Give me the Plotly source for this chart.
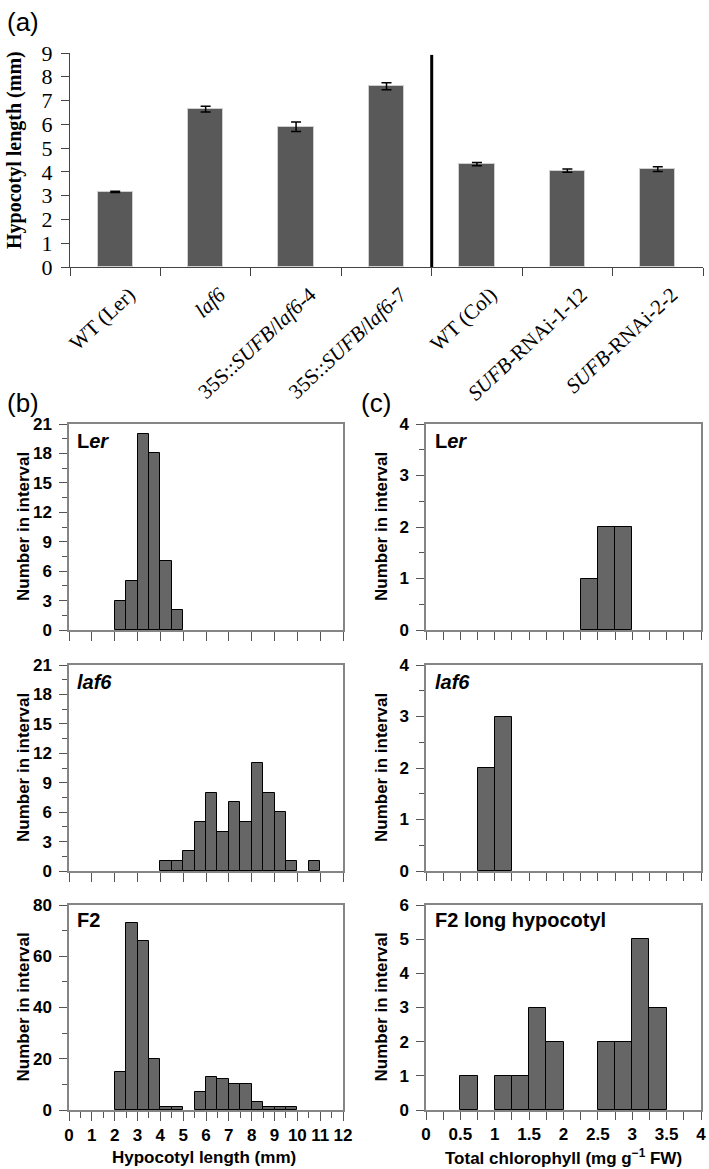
import plotly.graph_objects as go

W, H = 709, 1169

# ---- panel (a): mean hypocotyl length ----
genotypes = ["WT (Ler)", "<i>laf6</i>", "35S::<i>SUFB</i>/<i>laf6</i>-4", "35S::<i>SUFB</i>/<i>laf6</i>-7",
             "WT (Col)", "<i>SUFB</i>-RNAi-1-12", "<i>SUFB</i>-RNAi-2-2"]
ler_group_size = 4  # first four are Ler background, rest Col
mean_len = [3.16, 6.64, 5.90, 7.60, 4.33, 4.05, 4.12]
sem_len = [0.03, 0.12, 0.20, 0.15, 0.07, 0.07, 0.10]

# ---- panel (b): hypocotyl length histograms (bin start, count), bin width 0.5 mm ----
hyp_bin = 0.5
ler_hyp_start = [2.0, 2.5, 3.0, 3.5, 4.0, 4.5]
ler_hyp_count = [3, 5, 20, 18, 7, 2]
laf6_hyp_start = [4.0, 4.5, 5.0, 5.5, 6.0, 6.5, 7.0, 7.5, 8.0, 8.5, 9.0, 9.5, 10.5]
laf6_hyp_count = [1, 1, 2, 5, 8, 4, 7, 5, 11, 8, 6, 1, 1]
f2_hyp_start = [2.0, 2.5, 3.0, 3.5, 4.0, 4.5, 5.5, 6.0, 6.5, 7.0, 7.5, 8.0, 8.5, 9.0, 9.5]
f2_hyp_count = [15, 73, 66, 20, 1, 1, 7, 13, 12, 10, 10, 3, 1, 1, 1]

# ---- panel (c): chlorophyll histograms, bin width 0.25 ----
chl_bin = 0.25
ler_chl_start = [2.25, 2.5, 2.75]
ler_chl_count = [1, 2, 2]
laf6_chl_start = [0.75, 1.0]
laf6_chl_count = [2, 3]
f2_chl_start = [0.5, 1.0, 1.25, 1.5, 1.75, 2.5, 2.75, 3.0, 3.25]
f2_chl_count = [1, 1, 1, 3, 2, 2, 2, 5, 3]


def fx(p):
    return p / W


def fy(p):
    return 1 - p / H


fig = go.Figure()

fig.add_trace(go.Bar(x=genotypes, y=mean_len, width=0.39,
                     marker=dict(color="#595959", line=dict(color="#cfcfcf", width=1)),
                     error_y=dict(type="data", array=sem_len, color="black", thickness=1.5, width=5),
                     xaxis="x", yaxis="y"))

hist_color = "#666666"
hists = [
    (ler_hyp_start, ler_hyp_count, hyp_bin, 2),
    (laf6_hyp_start, laf6_hyp_count, hyp_bin, 3),
    (f2_hyp_start, f2_hyp_count, hyp_bin, 4),
    (ler_chl_start, ler_chl_count, chl_bin, 5),
    (laf6_chl_start, laf6_chl_count, chl_bin, 6),
    (f2_chl_start, f2_chl_count, chl_bin, 7),
]
for starts, counts, bw, k in hists:
    fig.add_trace(go.Bar(x=starts, y=counts, width=bw, offset=0,
                         marker=dict(color=hist_color, line=dict(color="black", width=1)),
                         xaxis=f"x{k}", yaxis=f"y{k}"))

serif = "Liberation Serif"
sans = "Liberation Sans"
frame = "#858585"
tickc = "#555555"
boldtick = dict(family=sans, size=17, color="black", weight=700)

layout = dict(
    width=W, height=H, margin=dict(l=0, r=0, t=0, b=0, autoexpand=False),
    paper_bgcolor="white", plot_bgcolor="white", showlegend=False, bargap=0,
    xaxis=dict(domain=[fx(70), fx(703)], anchor="y", type="category", automargin=False,
               tickson="boundaries", ticks="outside", ticklen=8, tickcolor="#444",
               showline=True, linecolor="#444", linewidth=1.2, tickangle=-43,
               ticklabelstandoff=6, ticklabelshift=14,
               tickfont=dict(family=serif, size=21, color="black")),
    yaxis=dict(domain=[fy(267), fy(53)], anchor="x", range=[0, 9], dtick=1, automargin=False,
               ticks="outside", ticklen=8, tickcolor="#444", showline=True,
               linecolor="#444", linewidth=1.2, showgrid=False, zeroline=False,
               tickfont=dict(family=serif, size=22, color="black"), ticklabelstandoff=4),
)

rows = [(424, 630), (665, 871), (905, 1110)]
b_yrange = [(21, 3, 1.5), (21, 3, 1.5), (80, 20, 10)]
c_yrange = [(4, 1, 0.5), (4, 1, 0.5), (6, 1, None)]


def yax(xk, top, bot, rng):
    mx, dt, mn = rng
    d = dict(domain=[fy(bot), fy(top)], anchor=f"x{xk}", range=[0, mx], dtick=dt, automargin=False,
             ticks="outside", ticklen=8, tickcolor=tickc, showline=True, mirror=True,
             linecolor=frame, linewidth=1.5, showgrid=False, zeroline=False,
             tickfont=boldtick, ticklabelstandoff=4)
    if mn:
        d["minor"] = dict(dtick=mn, ticks="outside", ticklen=5, tickcolor=tickc, showgrid=False)
    return d


for i, (top, bot) in enumerate(rows):
    kb, kc = 2 + i, 5 + i
    last = i == 2
    layout[f"xaxis{kb}"] = dict(domain=[fx(69), fx(343)], anchor=f"y{kb}", range=[0, 12], dtick=1,
                               automargin=False, ticks="outside", ticklen=9, tickcolor=tickc,
                               showline=True, mirror=True, linecolor=frame, linewidth=1.5,
                               showgrid=False, zeroline=False, showticklabels=last, tickfont=boldtick)
    if last:
        layout[f"xaxis{kb}"]["minor"] = dict(dtick=0.5, ticks="outside", ticklen=6, tickcolor=tickc, showgrid=False)
    layout[f"yaxis{kb}"] = yax(kb, top, bot, b_yrange[i])
    layout[f"xaxis{kc}"] = dict(domain=[fx(426), fx(701)], anchor=f"y{kc}", range=[0, 4], dtick=0.5,
                               automargin=False, ticks="outside", ticklen=8, tickcolor=tickc,
                               showline=True, mirror=True, linecolor=frame, linewidth=1.5,
                               showgrid=False, zeroline=False, showticklabels=last,
                               minor=dict(dtick=0.25, ticks="outside", ticklen=8, tickcolor=tickc, showgrid=False),
                               tickfont=boldtick)
    layout[f"yaxis{kc}"] = yax(kc, top, bot, c_yrange[i])

fig.update_layout(**layout)

# separator between Ler and Col backgrounds
fig.add_shape(type="line", xref="x", yref="y", x0=ler_group_size - 0.5, x1=ler_group_size - 0.5,
              y0=0, y1=8.92, line=dict(color="black", width=3))


def note(text, x, y, size, family=sans, angle=0, xanchor="center", bold=False, color="black"):
    fig.add_annotation(text=text, xref="paper", yref="paper", x=fx(x), y=fy(y), showarrow=False,
                       textangle=angle, xanchor=xanchor, yanchor="middle",
                       font=dict(family=family, size=size, color=color, weight=700 if bold else 400))


note("(a)", 5, 22, 26, xanchor="left")
note("(b)", 5, 403, 26, xanchor="left")
note("(c)", 359, 403, 26, xanchor="left")

note("Hypocotyl length (mm)", 14, 150, 20, family=serif, angle=-90, bold=True)
for top, bot in rows:
    note("Number in interval", 23, (top + bot) / 2, 17, angle=-90, bold=True)
    note("Number in interval", 381, (top + bot) / 2, 17, angle=-90, bold=True)

note("Hypocotyl length (mm)", 204, 1157, 17, bold=True)
note("Total chlorophyll (mg g<sup>\u22121</sup> FW)", 563, 1157, 17, bold=True)

note("L<i>er</i>", 75, 441, 20, xanchor="left", bold=True)
note("<i>laf6</i>", 75, 682, 20, xanchor="left", bold=True)
note("F2", 75, 920, 20, xanchor="left", bold=True)
note("L<i>er</i>", 433, 441, 20, xanchor="left", bold=True)
note("<i>laf6</i>", 433, 682, 20, xanchor="left", bold=True)
note("F2 long hypocotyl", 433, 920, 20, xanchor="left", bold=True)

# the page's default body margin would shift the figure by 8px
fig.write_html("out.html", config={"displayModeBar": False},
               post_script="document.body.style.margin='0';")
